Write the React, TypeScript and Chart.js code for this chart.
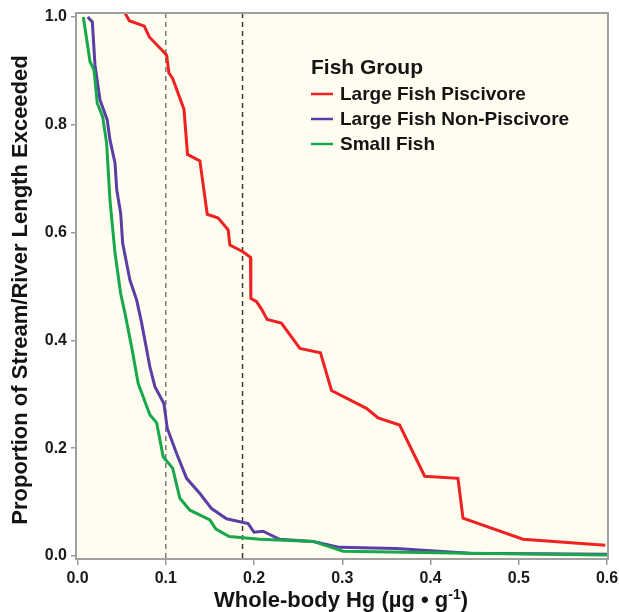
import React, { useEffect, useRef } from "react";
import { Chart, registerables } from "chart.js";

Chart.register(...registerables);

const xTicks = [0, 0.1, 0.2, 0.3, 0.4, 0.5, 0.6];
const yTicks = [0, 0.2, 0.4, 0.6, 0.8, 1.0];
const refLines = [0.1, 0.187];

const seriesNames = ["Large Fish Piscivore", "Large Fish Non-Piscivore", "Small Fish"];
const legendTitle = "Fish Group";

const pisX = [0.054, 0.0587, 0.0757, 0.0813, 0.0972, 0.101, 0.1036, 0.1078, 0.1206, 0.1247, 0.1387, 0.147, 0.1594, 0.1707, 0.1726, 0.187, 0.196, 0.1964, 0.2029, 0.2085, 0.2149, 0.231, 0.252, 0.2753, 0.2878, 0.3274, 0.3406, 0.365, 0.3934, 0.4311, 0.4368, 0.5047, 0.598];
const pisY = [1.007, 0.993, 0.983, 0.963, 0.936, 0.929, 0.896, 0.886, 0.829, 0.745, 0.733, 0.634, 0.627, 0.605, 0.577, 0.565, 0.554, 0.478, 0.472, 0.458, 0.439, 0.432, 0.385, 0.377, 0.307, 0.274, 0.256, 0.243, 0.148, 0.144, 0.07, 0.031, 0.02];

const nonX = [0.0115, 0.0168, 0.0198, 0.0255, 0.0337, 0.0368, 0.0425, 0.0445, 0.0489, 0.0512, 0.0594, 0.067, 0.0727, 0.082, 0.0877, 0.0979, 0.1017, 0.1123, 0.1236, 0.1387, 0.1519, 0.1689, 0.1934, 0.2, 0.2103, 0.229, 0.267, 0.297, 0.361, 0.444, 0.6];
const nonY = [1.0, 0.991, 0.911, 0.846, 0.809, 0.772, 0.729, 0.679, 0.636, 0.58, 0.512, 0.475, 0.432, 0.351, 0.314, 0.283, 0.237, 0.19, 0.144, 0.116, 0.088, 0.069, 0.06, 0.044, 0.046, 0.031, 0.027, 0.016, 0.014, 0.005, 0.003];

const smX = [0.0066, 0.0142, 0.0187, 0.0224, 0.0285, 0.033, 0.0368, 0.0425, 0.0489, 0.0538, 0.0613, 0.0688, 0.082, 0.0897, 0.0971, 0.1078, 0.116, 0.1274, 0.15, 0.1568, 0.1719, 0.2066, 0.267, 0.301, 0.444, 0.6];
const smY = [1.0, 0.917, 0.902, 0.84, 0.815, 0.766, 0.66, 0.562, 0.487, 0.45, 0.388, 0.32, 0.262, 0.247, 0.184, 0.163, 0.107, 0.085, 0.067, 0.05, 0.036, 0.031, 0.027, 0.009, 0.005, 0.002];

const colors = ["#ee2222", "#5a3ea6", "#18a84c"];
const FONT = "'Liberation Sans', Arial, Helvetica, sans-serif";

const zip = (xs: number[], ys: number[]) => xs.map((x, i) => ({ x, y: ys[i] }));

export default function App() {
  const ref = useRef<HTMLCanvasElement | null>(null);

  useEffect(() => {
    if (!ref.current) return;

    const decorPlugin = {
      id: "decor",
      beforeDraw(chart: any) {
        const { ctx, chartArea: a } = chart;
        ctx.save();
        ctx.fillStyle = "#fffcf0";
        ctx.fillRect(a.left, a.top, a.right - a.left, a.bottom - a.top);
        ctx.restore();
      },
      beforeDatasetsDraw(chart: any) {
        const { ctx, chartArea: a, scales } = chart;
        ctx.save();
        refLines.forEach((v, i) => {
          const px = scales.x.getPixelForValue(v);
          ctx.strokeStyle = i === 0 ? "#7a7a7a" : "#3a3a3a";
          ctx.lineWidth = 1.5;
          ctx.setLineDash([5, 4]);
          ctx.beginPath();
          ctx.moveTo(px, a.top);
          ctx.lineTo(px, a.bottom);
          ctx.stroke();
        });
        ctx.restore();
      },
      afterDraw(chart: any) {
        const { ctx, chartArea: a } = chart;
        ctx.save();
        // frame
        ctx.strokeStyle = "#a0a0a0";
        ctx.lineWidth = 2;
        ctx.strokeRect(a.left, a.top, a.right - a.left, a.bottom - a.top);
        // legend
        ctx.fillStyle = "#141414";
        ctx.textBaseline = "alphabetic";
        ctx.textAlign = "left";
        ctx.font = `bold 21px ${FONT}`;
        ctx.fillText(legendTitle, 311, 74);
        ctx.font = `bold 19px ${FONT}`;
        seriesNames.forEach((name, i) => {
          const base = 100 + i * 25;
          ctx.strokeStyle = colors[i];
          ctx.lineWidth = 2.5;
          ctx.beginPath();
          ctx.moveTo(311, base - 6);
          ctx.lineTo(333, base - 6);
          ctx.stroke();
          ctx.fillText(name, 340, base);
        });
        // x title with superscript
        const big = `bold 22px ${FONT}`;
        const small = `bold 14px ${FONT}`;
        ctx.font = big;
        const part1 = "Whole-body Hg (\u00b5g \u2022 g";
        const sup = "-1";
        const part3 = ")";
        const w1 = ctx.measureText(part1).width;
        const w3 = ctx.measureText(part3).width;
        ctx.font = small;
        const w2 = ctx.measureText(sup).width;
        const total = w1 + w2 + w3;
        const sx = 341 - total / 2;
        const by = 607;
        ctx.font = big;
        ctx.fillText(part1, sx, by);
        ctx.font = small;
        ctx.fillText(sup, sx + w1, by - 8);
        ctx.font = big;
        ctx.fillText(part3, sx + w1 + w2, by);
        // y title
        ctx.translate(26.5, 290);
        ctx.rotate(-Math.PI / 2);
        ctx.textAlign = "center";
        ctx.font = `bold 22px ${FONT}`;
        ctx.fillText("Proportion of Stream/River Length Exceeded", 0, 0);
        ctx.restore();
      },
    };

    const chart = new Chart(ref.current, {
      type: "line",
      data: {
        datasets: [
          { label: seriesNames[0], data: zip(pisX, pisY), borderColor: colors[0], order: 2 },
          { label: seriesNames[1], data: zip(nonX, nonY), borderColor: colors[1], order: 1 },
          { label: seriesNames[2], data: zip(smX, smY), borderColor: colors[2], order: 0 },
        ].map((d) => ({ ...d, borderWidth: 3, pointRadius: 0, tension: 0, fill: false })),
      },
      options: {
        animation: false,
        responsive: false,
        parsing: false as any,
        layout: { padding: { top: 13, right: 11, left: 0, bottom: 0 } },
        plugins: { legend: { display: false }, tooltip: { enabled: false } },
        scales: {
          x: {
            type: "linear",
            min: -0.0017,
            max: 0.6011,
            afterBuildTicks: (s: any) => {
              s.ticks = xTicks.map((v) => ({ value: v }));
            },
            afterFit: (s: any) => {
              s.height = 53;
              s.paddingLeft = 0;
              s.paddingRight = 0;
            },
            grid: { drawOnChartArea: false, drawTicks: true, tickLength: 6, color: "#999", lineWidth: 1.5 },
            border: { display: true, color: "#a0a0a0", width: 2 },
            ticks: {
              padding: 4,
              color: "#1a1a1a",
              font: { family: FONT, weight: "bold", size: 16 },
              maxRotation: 0,
              callback: (v: any) => Number(v).toFixed(1),
            },
          },
          y: {
            type: "linear",
            min: -0.0056,
            max: 1.0074,
            afterBuildTicks: (s: any) => {
              s.ticks = yTicks.map((v) => ({ value: v }));
            },
            afterFit: (s: any) => {
              s.width = 76;
              s.paddingTop = 0;
              s.paddingBottom = 0;
            },
            grid: { drawOnChartArea: false, drawTicks: true, tickLength: 5, color: "#999", lineWidth: 1.5 },
            border: { display: true, color: "#a0a0a0", width: 2 },
            ticks: {
              padding: 4,
              color: "#1a1a1a",
              font: { family: FONT, weight: "bold", size: 16 },
              callback: (v: any) => Number(v).toFixed(1),
            },
          },
        },
      },
      plugins: [decorPlugin],
    });
    return () => chart.destroy();
  }, []);

  return (
    <div style={{ position: "absolute", left: 0, top: 0, width: 619, height: 612, background: "#fff" }}>
      <canvas ref={ref} width={619} height={612} style={{ width: 619, height: 612, display: "block" }} />
    </div>
  );
}
